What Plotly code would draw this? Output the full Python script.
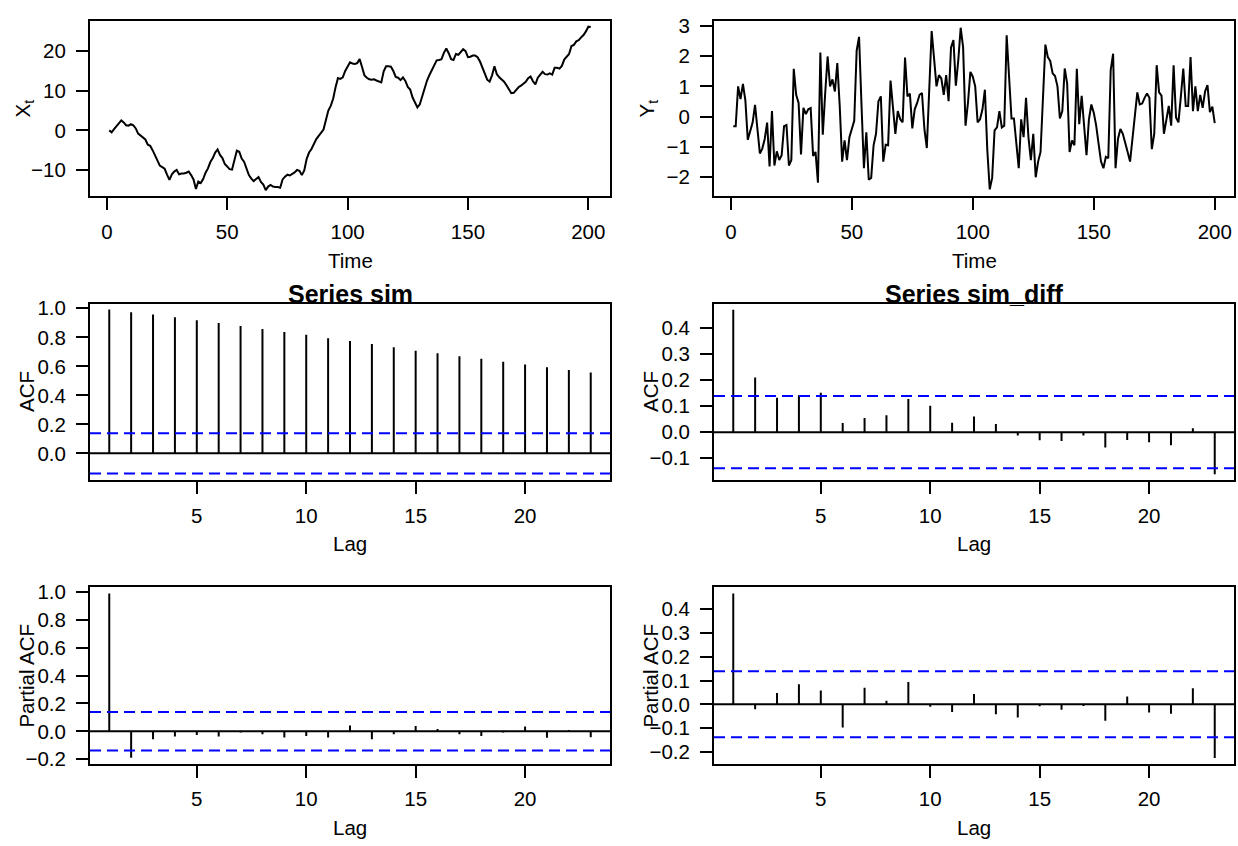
import plotly.graph_objects as go

W, H = 1238, 846
FONT = "Liberation Sans, Arial, Helvetica, sans-serif"

# ---------------- data ----------------
time_x = list(range(1, 202))
x_vals = [
    0.0, -0.5, 0.3, 1.0, 1.6, 2.5, 2.0, 1.3, 1.2, 1.6,
    1.3, 0.5, -0.8, -1.3, -1.9, -2.3, -3.6, -3.9, -5.0, -6.3,
    -7.6, -8.9, -9.3, -9.7, -11.2, -12.5, -11.1, -10.4, -10.0, -11.1,
    -10.9, -10.9, -10.7, -10.4, -11.3, -12.4, -14.8, -12.9, -13.3, -12.3,
    -10.7, -9.6, -8.0, -7.0, -5.6, -4.8, -6.2, -7.0, -8.5, -9.3,
    -9.8, -9.9, -7.5, -5.1, -5.4, -7.1, -7.9, -9.6, -11.3, -12.2,
    -12.8, -12.3, -11.8, -13.0, -13.7, -15.1, -14.2, -13.8, -14.2, -14.3,
    -14.3, -14.5, -12.4, -11.7, -11.2, -11.4, -11.1, -10.6, -10.0, -10.2,
    -11.3, -10.1, -7.2, -5.6, -4.7, -3.3, -2.2, -1.4, -0.5, 0.2,
    2.6, 5.0, 6.2, 8.0, 10.9, 13.2, 13.0, 13.4, 15.0, 16.3,
    17.2, 16.9, 16.8, 17.0, 18.0, 16.0, 13.9, 13.3, 12.9, 12.8,
    12.9, 12.6, 12.3, 12.1, 14.9, 16.2, 16.2, 16.1, 15.0, 13.5,
    13.3, 12.7, 13.4, 12.5, 11.0, 10.3, 8.3, 6.8, 5.8, 6.6,
    8.8, 10.7, 12.6, 14.0, 15.3, 16.6, 17.7, 17.8, 18.0, 19.6,
    20.7, 19.5, 18.0, 17.8, 19.3, 19.1, 19.8, 20.5, 20.0, 18.5,
    18.6, 18.9, 18.9, 18.5, 17.4, 15.8, 14.1, 12.8, 12.3, 13.9,
    16.2, 14.2, 13.4, 12.9, 12.3, 11.4, 10.2, 9.4, 9.5, 10.2,
    10.9, 11.3, 11.7, 12.3, 13.2, 13.6, 12.4, 11.6, 13.3, 14.1,
    14.8, 14.2, 14.1, 14.4, 14.1, 15.8, 15.8, 15.6, 16.3, 17.9,
    18.7, 19.3, 21.3, 21.6, 22.5, 22.8, 23.5, 24.1, 25.0, 26.2,
    26.1,
]

time_y = list(range(1, 201))
y_vals = [
    -0.32, -0.32, 1.0, 0.58, 1.08, 0.54, -0.77, -0.52, -0.2, 0.39,
    -0.41, -1.22, -1.06, -0.74, -0.2, -1.65, 0.18, -1.62, -1.15, -1.44,
    -1.28, -0.32, -0.28, -1.62, -1.44, 1.58, 0.72, 0.45, -1.25, 0.29,
    0.08, 0.24, 0.28, -1.3, -1.17, -2.19, 2.12, -0.6, 0.78, 1.99,
    1.0, 1.23, 0.83, 1.77, 0.35, -1.49, -0.79, -1.44, -0.68, -0.43,
    -0.14, 2.18, 2.64, 0.4, -1.71, -0.52, -2.09, -2.03, -0.95, -0.57,
    0.51, 0.67, -1.49, -0.93, -0.95, 1.19, 0.24, -0.57, 0.18, -0.09,
    -0.19, 1.95, 0.67, 0.76, -0.39, 0.24, 0.45, 0.72, 0.78, -0.41,
    -1.04, 1.1, 2.83, 1.92, 1.0, 1.37, 1.26, 0.72, 1.37, 0.51,
    2.29, 2.53, 1.02, 1.86, 2.94, 2.29, -0.3, 0.45, 1.48, 1.32,
    1.0, -0.19, -0.09, 0.24, 0.89, -1.11, -2.41, -2.03, -0.46, -0.36,
    0.18, -0.36, -0.3, 2.69, 1.43, -0.06, -0.06, -0.95, -1.71, -0.09,
    -0.68, 0.62, -0.68, -1.44, -0.57, -2.01, -1.49, -1.17, 0.56, 2.38,
    1.97, 1.84, 1.43, 1.34, 1.0, -0.06, 0.18, 1.59, 1.1, -1.17,
    -0.79, -0.95, 1.58, -0.25, 0.69, -0.41, -1.28, -0.09, 0.4, 0.13,
    -0.3, -0.9, -1.49, -1.71, -1.33, -1.38, 1.54, 2.08, -1.71, -0.74,
    -0.41, -0.57, -0.84, -1.17, -1.49, -0.74, 0.24, 0.8, 0.4, 0.43,
    0.62, 0.76, 0.62, -1.08, -0.57, 1.7, 0.8, 0.69, -0.57, -0.14,
    0.35, -0.3, 1.7, -0.03, -0.19, 0.67, 1.59, 0.35, 0.35, 1.97,
    0.18, 1.0, 0.18, 0.72, 0.29, 0.83, 1.04, 0.15, 0.33, -0.22,
]

lags = list(range(1, 24))
acf_sim = [0.991, 0.973, 0.957, 0.939, 0.917, 0.898, 0.878, 0.858, 0.837, 0.817,
           0.794, 0.774, 0.754, 0.731, 0.708, 0.690, 0.670, 0.652, 0.631, 0.613,
           0.593, 0.575, 0.557]
acf_diff = [0.469, 0.209, 0.132, 0.141, 0.151, 0.035, 0.054, 0.065, 0.127, 0.101,
            0.036, 0.060, 0.031, -0.013, -0.031, -0.034, -0.013, -0.059, -0.030, -0.039,
            -0.050, 0.015, -0.161]
pacf_sim = [0.990, -0.190, -0.057, -0.038, -0.026, -0.038, -0.009, -0.021, -0.045, -0.033,
            -0.045, 0.042, -0.057, -0.021, 0.038, 0.017, -0.021, -0.033, -0.009, 0.035,
            -0.047, 0.009, -0.042]
pacf_diff = [0.466, -0.021, 0.048, 0.084, 0.058, -0.097, 0.070, 0.015, 0.094, -0.010,
             -0.032, 0.044, -0.041, -0.055, -0.008, -0.023, -0.007, -0.069, 0.033, -0.034,
             -0.039, 0.068, -0.225]
clim_sim = 0.1382
clim_diff = 0.1386

time_ticks = [0, 50, 100, 150, 200]
lag_ticks = [5, 10, 15, 20]

# ---------------- layout geometry (pixels) ----------------
cols = [(90, 610), (714, 1234)]
rows = [(14, 192), (301.3, 480.3), (589.3, 768.7)]


def xd(c):
    return [cols[c][0] / W, cols[c][1] / W]


def yd(r):
    return [1 - rows[r][1] / H, 1 - rows[r][0] / H]


fig = go.Figure()

LINE = dict(color="black", width=2)

# time series
fig.add_trace(go.Scatter(x=time_x, y=x_vals, mode="lines", line=LINE, xaxis="x", yaxis="y"))
fig.add_trace(go.Scatter(x=time_y, y=y_vals, mode="lines", line=LINE, xaxis="x2", yaxis="y2"))


def stems(vals):
    xs, ys = [], []
    for l, v in zip(lags, vals):
        xs += [l, l, None]
        ys += [0, v, None]
    return xs, ys


panels = [(acf_sim, 3, clim_sim), (acf_diff, 4, clim_diff),
          (pacf_sim, 5, clim_sim), (pacf_diff, 6, clim_diff)]
shapes = []
for vals, k, clim in panels:
    xs, ys = stems(vals)
    fig.add_trace(go.Scatter(x=xs, y=ys, mode="lines", line=LINE,
                             xaxis=f"x{k}", yaxis=f"y{k}"))
    shapes.append(dict(type="line", xref=f"x{k} domain", yref=f"y{k}",
                       x0=0, x1=1, y0=0, y1=0, line=dict(color="black", width=2)))
    for c in (clim, -clim):
        shapes.append(dict(type="line", xref=f"x{k} domain", yref=f"y{k}",
                           x0=0, x1=1, y0=c, y1=c,
                           line=dict(color="#0000FF", width=2, dash="11px,6px")))

TICKFONT = dict(family=FONT, size=20.5, color="black")


def ax(domain, anchor, rng, tickvals, fmt=None, is_y=False):
    d = dict(domain=domain, anchor=anchor, range=rng, tickvals=tickvals,
             showline=True, linecolor="black", linewidth=2, mirror=True,
             ticks="outside", ticklen=12, tickwidth=2, tickcolor="black",
             showgrid=False, zeroline=False, tickfont=TICKFONT,
             ticklabelstandoff=(6 if is_y else 4))
    if fmt:
        d["tickformat"] = fmt
    return d


layout = dict(
    width=W, height=H, margin=dict(l=0, r=0, t=0, b=0),
    paper_bgcolor="white", plot_bgcolor="white", showlegend=False,
    font=dict(family=FONT, color="black"),
)

cfg = {
    1: (0, 0, [-7, 209], [-16.59, 27.69], time_ticks, [-10, 0, 10, 20], None),
    2: (1, 0, [-6.96, 207.96], [-2.63, 3.17], time_ticks, [-2, -1, 0, 1, 2, 3], None),
    3: (0, 1, [0.12, 23.88], [-0.183, 1.032], lag_ticks, [0, 0.2, 0.4, 0.6, 0.8, 1.0], ".1f"),
    4: (1, 1, [0.12, 23.88], [-0.183, 0.492], lag_ticks, [-0.1, 0, 0.1, 0.2, 0.3, 0.4], ".1f"),
    5: (0, 2, [0.12, 23.88], [-0.234, 1.035], lag_ticks, [-0.2, 0, 0.2, 0.4, 0.6, 0.8, 1.0], ".1f"),
    6: (1, 2, [0.12, 23.88], [-0.25, 0.492], lag_ticks, [-0.2, -0.1, 0, 0.1, 0.2, 0.3, 0.4], ".1f"),
}
for k, (c, r, xr, yr, xt, yt, fmt) in cfg.items():
    sx = "" if k == 1 else str(k)
    layout[f"xaxis{sx}"] = ax(xd(c), f"y{sx}", xr, xt)
    layout[f"yaxis{sx}"] = ax(yd(r), f"x{sx}", yr, yt, fmt, is_y=True)

fig.update_layout(**layout)
fig.update_layout(shapes=shapes)

ann = []


def A(text, px, py, size=20.5, angle=0):
    ann.append(dict(text=text, x=px / W, y=1 - py / H,
                    xref="paper", yref="paper", showarrow=False, textangle=angle,
                    xanchor="center", yanchor="middle",
                    font=dict(family=FONT, size=size, color="black")))


for c in (0, 1):
    cx = (cols[c][0] + cols[c][1]) / 2
    A("Time", cx, 257)
    A("Lag", cx, 545)
    A("Lag", cx, 833)
A("<b>Series sim</b>", 350, 291, size=25)
A("<b>Series sim_diff</b>", 974, 291, size=25)
A("X<sub>t</sub>", 24, 103, angle=-90)
A("Y<sub>t</sub>", 648, 103, angle=-90)
A("ACF", 27, 391, angle=-90)
A("ACF", 651, 391, angle=-90)
A("Partial ACF", 27, 679, angle=-90)
A("Partial ACF", 651, 679, angle=-90)
fig.update_layout(annotations=ann)

fig.write_html("out.html")
